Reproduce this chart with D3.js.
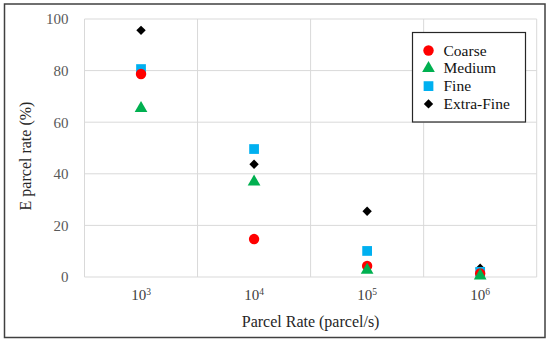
<!DOCTYPE html>
<html>
<head>
<meta charset="utf-8">
<script src="https://cdn.jsdelivr.net/npm/d3@7"></script>
<style>
	body { margin: 0; background: #fff; }
</style>
</head>
<body>
<div id="chart"></div>
<script>
// parcel rate exponents (10^n)
var rates = [3, 4, 5, 6];
var yTicks = [0, 20, 40, 60, 80, 100];

var seriesNames = ["Coarse", "Medium", "Fine", "Extra-Fine"];
var coarse = [78.7, 14.7, 4.3, 1.4];
var medium = [65.4, 36.9, 2.7, 0.5];
var fine = [80.6, 49.6, 10.1, 2.0];
var extraFine = [95.6, 43.7, 25.5, 3.4];

var serif = "'Liberation Serif', 'DejaVu Serif', serif";
var colors = {"Coarse": "#ff0000", "Medium": "#00b050", "Fine": "#00b0f0", "Extra-Fine": "#000000"};
var shapes = {"Coarse": d3.symbolCircle, "Medium": d3.symbolTriangle, "Fine": d3.symbolSquare, "Extra-Fine": d3.symbolSquare};
var sizes = {"Coarse": 85, "Medium": 70, "Fine": 95, "Extra-Fine": 44};
var rotation = {"Coarse": 0, "Medium": 0, "Fine": 0, "Extra-Fine": 45};

function groupChart() {
	var width = 550;
	var height = 343;
	var margin = {left: 84.5, right: 13.3, top: 19, bottom: 66};

	var svg = d3.select("#chart").append("svg")
		.attr("width", width)
		.attr("height", height)
		.attr("font-family", serif);

	// outer frame
	svg.append("rect")
		.attr("x", 4.5).attr("y", 4)
		.attr("width", 540.5).attr("height", 333.5)
		.attr("fill", "none")
		.attr("stroke", "#404040")
		.attr("stroke-width", 1.5);

	var x = d3.scaleBand()
		.domain(rates)
		.range([margin.left, width - margin.right]);

	var y = d3.scaleLinear()
		.domain([0, 100])
		.range([height - margin.bottom, margin.top]);

	// gridlines
	var grid = svg.append("g").attr("stroke", "#d9d9d9").attr("stroke-width", 1);
	grid.selectAll(".hg").data(yTicks).enter().append("line")
		.attr("x1", margin.left).attr("x2", width - margin.right)
		.attr("y1", function(d) { return y(d); })
		.attr("y2", function(d) { return y(d); });
	var bounds = rates.map(function(r) { return x(r); }).concat([x(rates[rates.length - 1]) + x.bandwidth()]);
	grid.selectAll(".vg").data(bounds).enter().append("line")
		.attr("x1", function(d) { return d; }).attr("x2", function(d) { return d; })
		.attr("y1", y(0)).attr("y2", y(100));

	// y axis
	var yAxis = svg.append("g")
		.attr("transform", "translate(" + margin.left + ",0)")
		.call(d3.axisLeft(y).tickValues(yTicks).tickSize(0).tickPadding(16));
	yAxis.attr("font-family", serif).attr("font-size", 15);
	yAxis.select(".domain").remove();
	yAxis.selectAll("text").attr("fill", "#595959");

	// x axis with superscripts
	var xAxis = svg.append("g")
		.attr("transform", "translate(0," + y(0) + ")")
		.call(d3.axisBottom(x).tickSize(0).tickPadding(0).tickFormat(""));
	xAxis.attr("font-family", serif).attr("font-size", 15);
	xAxis.select(".domain").remove();
	xAxis.selectAll(".tick").append("text")
		.attr("y", 23)
		.attr("fill", "#404040")
		.attr("text-anchor", "middle")
		.each(function(d) {
			var t = d3.select(this);
			t.append("tspan").text("10");
			t.append("tspan").attr("dy", -5).attr("font-size", 9.5).text(d);
		});

	// axis titles
	svg.append("text")
		.attr("x", (margin.left + width - margin.right) / 2)
		.attr("y", 327)
		.attr("text-anchor", "middle")
		.attr("font-size", 16)
		.attr("fill", "#262626")
		.text("Parcel Rate (parcel/s)");

	svg.append("text")
		.attr("transform", "translate(31," + ((y(0) + y(100)) / 2 + 8) + ") rotate(-90)")
		.attr("text-anchor", "middle")
		.attr("font-size", 16)
		.attr("fill", "#262626")
		.text("E parcel rate (%)");

	// points, drawn back to front
	var values = {"Coarse": coarse, "Medium": medium, "Fine": fine, "Extra-Fine": extraFine};
	var drawOrder = ["Extra-Fine", "Fine", "Coarse", "Medium"];
	drawOrder.forEach(function(name) {
		svg.append("g").selectAll("path")
			.data(values[name])
			.enter().append("path")
			.attr("d", d3.symbol().type(shapes[name]).size(sizes[name]))
			.attr("transform", function(d, i) {
				return "translate(" + (x(rates[i]) + x.bandwidth() / 2) + "," + y(d) + ") rotate(" + rotation[name] + ")";
			})
			.attr("fill", colors[name]);
	});

	// legend
	var legend = svg.append("g").attr("transform", "translate(412.5,32.5)");
	legend.append("rect")
		.attr("width", 113).attr("height", 89.5)
		.attr("fill", "#fff")
		.attr("stroke", "#262626")
		.attr("stroke-width", 1.2);
	var items = legend.selectAll(".item").data(seriesNames).enter().append("g")
		.attr("transform", function(d, i) { return "translate(16," + (18 + i * 17.8) + ")"; });
	items.append("path")
		.attr("d", function(d) { return d3.symbol().type(shapes[d]).size(sizes[d])(); })
		.attr("transform", function(d) { return "rotate(" + rotation[d] + ")"; })
		.attr("fill", function(d) { return colors[d]; });
	items.append("text")
		.attr("x", 15)
		.attr("y", 5)
		.attr("font-size", 15.5)
		.attr("fill", "#111")
		.text(function(d) { return d; });
}

groupChart();
</script>
</body>
</html>
